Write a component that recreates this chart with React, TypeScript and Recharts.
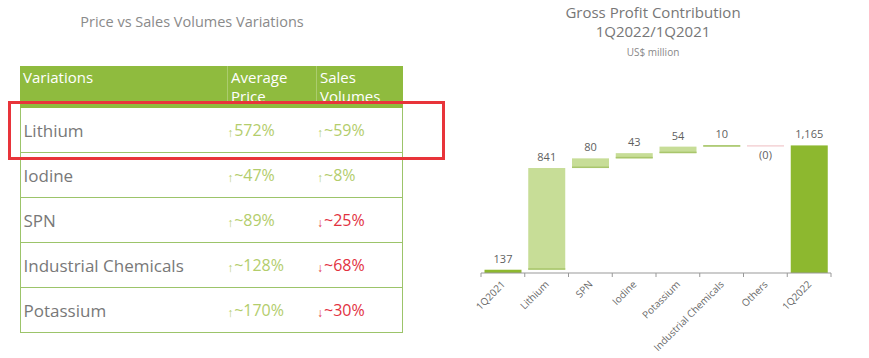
import { Bar, BarChart, Cell, LabelList, XAxis, YAxis } from 'recharts';

const categories = ['1Q2021', 'Lithium', 'SPN', 'Iodine', 'Potassium', 'Industrial Chemicals', 'Others', '1Q2022'];
const contributions = [137, 841, 80, 43, 54, 10, 0, 1165];
const isTotal = [true, false, false, false, false, false, false, true];

const tableRows = ['Lithium', 'Iodine', 'SPN', 'Industrial Chemicals', 'Potassium'];
const priceChanges = ['572%', '~47%', '~89%', '~128%', '~170%'];
const priceUp = [true, true, true, true, true];
const volumeChanges = ['~59%', '~8%', '~25%', '~68%', '~30%'];
const volumeUp = [true, true, false, false, false];

const DARK = '#8db82f';
const LIGHT = '#c7dd97';
const EDGE = '#a9c66c';
const NEUTRAL = '#eebcc0';
const GREEN_TXT = '#b3cd6c';
const RED_TXT = '#e2323f';
const FONT = '"Open Sans", sans-serif';

let running = 0;
const waterfall = categories.map((name, i) => {
  const v = contributions[i];
  let range: [number, number];
  if (isTotal[i]) {
    range = [0, v];
    running = v;
  } else {
    range = [running, running + v];
    running += v;
  }
  const label = v === 0 ? '(0)' : v.toLocaleString('en-US');
  return { name, range, label, total: isTotal[i], value: v };
});

function WaterfallBar(props: any) {
  const { x, y, width, height, payload } = props;
  if (payload.value === 0) {
    return <rect x={x} y={y} width={width} height={1} fill={NEUTRAL} />;
  }
  if (payload.total) {
    return <rect x={x} y={y} width={width} height={height} fill={DARK} />;
  }
  return (
    <g>
      <rect x={x} y={y} width={width} height={height} fill={LIGHT} />
      <rect x={x} y={y + height - 1.5} width={width} height={1.5} fill={EDGE} />
    </g>
  );
}

function BarLabel(props: any) {
  const { x, y, width, height, value, index } = props;
  const below = contributions[index] === 0;
  return (
    <text
      x={x + width / 2}
      y={below ? y + Math.abs(height) + 14 : y - 7}
      textAnchor="middle"
      fontSize={11}
      fill="#5f5f5f"
      fontFamily={FONT}
    >
      {value}
    </text>
  );
}

function CategoryTick(props: any) {
  const { x, y, payload, index } = props;
  const half = payload.offset ?? 0;
  return (
    <g>
      <line x1={x - half} y1={y - 8} x2={x - half} y2={y - 4} stroke="#999" />
      {index === categories.length - 1 && (
        <line x1={x + half} y1={y - 8} x2={x + half} y2={y - 4} stroke="#999" />
      )}
      <text
        x={x + 3}
        y={y + 4}
        transform={`rotate(-45, ${x + 3}, ${y + 4})`}
        textAnchor="end"
        fontSize={10}
        fill="#6a6a6a"
        fontFamily={FONT}
      >
        {payload.value}
      </text>
    </g>
  );
}

function Arrow({ up }: { up: boolean }) {
  return (
    <span style={{ fontSize: 12, marginRight: 1, position: 'relative', top: 1 }}>{up ? '↑' : '↓'}</span>
  );
}

function VariationsTable() {
  const cols = [207, 89, 87];
  return (
    <div style={{ position: 'absolute', left: 20, top: 66, width: 383, fontFamily: FONT }}>
      <div style={{ display: 'flex', height: 42, background: '#8fbb3e', color: '#fff', fontSize: 15 }}>
        {['Variations', 'Average Price', 'Sales Volumes'].map((h, i) => (
          <div
            key={h}
            style={{
              width: cols[i],
              height: 35,
              overflow: 'hidden',
              lineHeight: '19px',
              padding: '2px 3px 0',
              boxSizing: 'border-box',
              borderLeft: i > 0 ? '1px solid rgba(255,255,255,0.25)' : 'none',
            }}
          >
            {h.split(' ').map((w) => (
              <div key={w}>{w}</div>
            ))}
          </div>
        ))}
      </div>
      {tableRows.map((r, i) => (
        <div
          key={r}
          style={{
            display: 'flex',
            alignItems: 'center',
            height: 45,
            boxSizing: 'border-box',
            borderLeft: '1.5px solid #9cc46a',
            borderRight: '1.5px solid #9cc46a',
            borderBottom: '1.5px solid #9cc46a',
          }}
        >
          <div style={{ width: cols[0] - 1.5, paddingLeft: 2.5, fontSize: 17, color: '#787878' }}>{r}</div>
          <div style={{ width: cols[1], paddingLeft: 3, fontSize: 16, color: priceUp[i] ? GREEN_TXT : RED_TXT }}>
            <Arrow up={priceUp[i]} />
            {priceChanges[i]}
          </div>
          <div style={{ width: cols[2], paddingLeft: 3, fontSize: 16, color: volumeUp[i] ? GREEN_TXT : RED_TXT }}>
            <Arrow up={volumeUp[i]} />
            {volumeChanges[i]}
          </div>
        </div>
      ))}
    </div>
  );
}

export default function App() {
  return (
    <div
      style={{
        position: 'absolute',
        left: 0,
        top: 0,
        width: 869,
        height: 358,
        background: '#fff',
        overflow: 'hidden',
        fontFamily: FONT,
      }}
    >
      <div style={{ position: 'absolute', left: 0, width: 384, top: 12, textAlign: 'center', fontSize: 14.5, color: '#8a8a8a' }}>
        Price vs Sales Volumes Variations
      </div>
      <VariationsTable />
      <div
        style={{
          position: 'absolute',
          left: 8,
          top: 101,
          width: 437,
          height: 59,
          border: '3px solid #e8343a',
          boxSizing: 'border-box',
        }}
      />

      <div style={{ position: 'absolute', left: 553, width: 200, top: 3, textAlign: 'center', fontSize: 15, lineHeight: '19px', color: '#777' }}>
        <div>Gross Profit Contribution</div>
        <div>1Q2022/1Q2021</div>
      </div>
      <div style={{ position: 'absolute', left: 553, width: 200, top: 45, textAlign: 'center', fontSize: 10, color: '#888' }}>
        US$ million
      </div>

      <div style={{ position: 'absolute', left: 460, top: 0 }}>
        <BarChart
          width={400}
          height={358}
          data={waterfall}
          margin={{ top: 117, right: 29, bottom: 0, left: 21 }}
          barCategoryGap="8%"
        >
          <XAxis
            dataKey="name"
            interval={0}
            stroke="#999"
            tickLine={false}
            tick={<CategoryTick />}
            height={85}
          />
          <YAxis hide domain={[110, 1400]} allowDataOverflow />
          <Bar dataKey="range" isAnimationActive={false} shape={<WaterfallBar />}>
            {waterfall.map((d) => (
              <Cell key={d.name} fill={d.total ? DARK : LIGHT} />
            ))}
            <LabelList dataKey="label" content={<BarLabel />} />
          </Bar>
        </BarChart>
      </div>
    </div>
  );
}
